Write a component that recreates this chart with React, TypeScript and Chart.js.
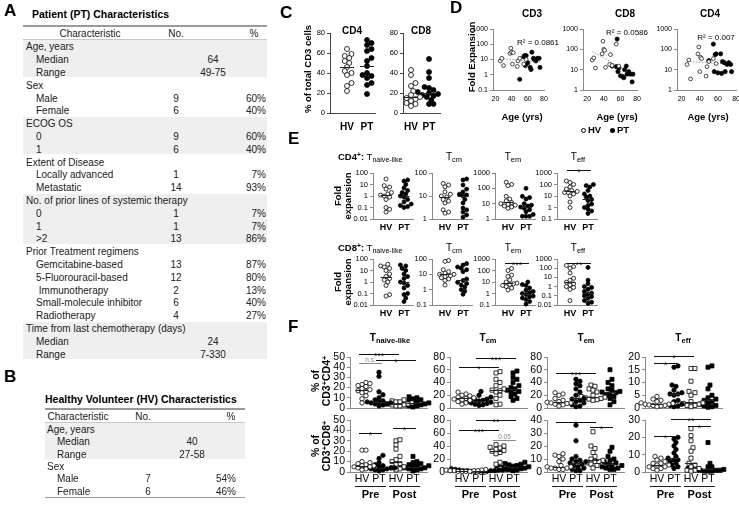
import React, { useEffect, useRef } from "react";
import { Chart, registerables } from "chart.js";
Chart.register(...registerables);

const FONT = "'Liberation Sans', Arial, Helvetica, sans-serif";

// ---------------- DATA ----------------
type Row = [string, string, string, string]; // label, No., %, centred value
const PT_GROUPS: { title: string; rows: Row[] }[] = [
  { title: "Age, years", rows: [["Median", "", "", "64"], ["Range", "", "", "49-75"]] },
  { title: "Sex", rows: [["Male", "9", "60%", ""], ["Female", "6", "40%", ""]] },
  { title: "ECOG OS", rows: [["0", "9", "60%", ""], ["1", "6", "40%", ""]] },
  { title: "Extent of Disease", rows: [["Locally advanced", "1", "7%", ""], ["Metastatic", "14", "93%", ""]] },
  { title: "No. of prior lines of systemic therapy", rows: [["0", "1", "7%", ""], ["1", "1", "7%", ""], [">2", "13", "86%", ""]] },
  {
    title: "Prior Treatment regimens",
    rows: [
      ["Gemcitabine-based", "13", "87%", ""],
      ["5-Fluorouracil-based", "12", "80%", ""],
      ["\u00a0Immunotherapy", "2", "13%", ""],
      ["Small-molecule inhibitor", "6", "40%", ""],
      ["Radiotherapy", "4", "27%", ""],
    ],
  },
  { title: "Time from last chemotherapy (days)", rows: [["Median", "", "", "24"], ["Range", "", "", "7-330"]] },
];
const HV_GROUPS: { title: string; rows: Row[] }[] = [
  { title: "Age, years", rows: [["Median", "", "", "40"], ["Range", "", "", "27-58"]] },
  { title: "Sex", rows: [["Male", "7", "54%", ""], ["Female", "6", "46%", ""]] },
];

// Panel C (% of total CD3 cells)
const C_GROUPS = ["HV", "PT"];
const C_TICKS = [0, 20, 40, 60, 80];
const C_CD4_HV = [64, 59, 57, 55, 52, 50, 46, 42, 40, 38, 30, 27, 22];
const C_CD4_PT = [73, 70, 68, 64, 62, 55, 52, 47, 40, 38, 37, 35, 30, 28, 19];
const C_CD8_HV = [43, 38, 30, 27, 22, 18, 16, 15, 14, 12, 10, 9, 7];
const C_CD8_PT = [54, 41, 35, 26, 25, 23, 21, 20, 19, 18, 17, 16, 13, 9, 9];

// Panel D (fold expansion vs age)
const D_AGE_TICKS = [20, 40, 60, 80];
const D_AGE_HV = [26, 28, 30, 38, 39, 40, 41, 42, 47, 48, 50, 55, 58];
const D_AGE_PT = [50, 55, 56, 57, 58, 60, 63, 64, 65, 67, 68, 70, 72, 74, 75];
const D_CD3_HV = [8, 12, 4, 25, 55, 30, 5, 28, 3.5, 8, 12, 5, 10];
const D_CD3_PT = [0.5, 15, 18, 4, 18, 6, 3, 2.2, 30, 12, 10, 8, 12, 12, 3];
const D_CD8_HV = [30, 38, 12, 60, 250, 100, 90, 13, 18, 55, 16, 180, 15];
const D_CD8_PT = [15, 14, 320, 8, 12, 5, 4.5, 4, 10, 15, 6, 8, 6, 2.5, 6];
const D_CD4_HV = [18, 30, 3.5, 60, 130, 8, 40, 35, 4.8, 14, 25, 35, 20];
const D_CD4_PT = [28, 180, 8, 55, 60, 7, 60, 6.5, 25, 22, 8, 18, 22, 18, 8];
const D_TICKS_CD3 = [0.1, 1, 10, 100, 1000];
const D_TICKS_CD8 = [1, 10, 100, 1000];
const D_TICKS_CD4 = [1, 10, 100, 1000];
const D_R2 = ["R\u00b2 = 0.0861", "R\u00b2 = 0.0586", "R\u00b2 = 0.007"];

// Panel E (fold expansion, [HV, PT])
const E_CD4_NAIVE = [[30, 8, 6, 4, 2, 1.5, 1.2, 1, 0.8, 0.5, 0.1, 0.07, 0.04], [25, 20, 10, 5, 3, 2, 1.5, 1, 0.8, 0.5, 0.3, 0.2, 0.15, 0.12, 0.1]];
const E_CD4_CM = [[35, 30, 25, 15, 12, 10, 9, 7, 6, 5, 2.5, 2, 1.8], [55, 50, 30, 20, 15, 12, 11, 10, 7, 5, 3, 2.5, 2, 1.5, 1.2]];
const E_CD4_EM = [[250, 180, 150, 30, 20, 15, 12, 10, 9, 8, 7, 6, 5], [100, 30, 25, 20, 10, 8, 7, 6, 5, 4, 3, 2, 1.5, 1.5, 1.5]];
const E_CD4_EFF = [[200, 150, 100, 60, 40, 30, 25, 20, 20, 15, 10, 3, 1], [100, 80, 60, 30, 15, 10, 8, 5, 4, 2, 1.5, 1, 0.7, 0.5, 0.3]];
const E_CD8_NAIVE = [[35, 25, 20, 15, 10, 5, 3, 2, 1.5, 1, 0.5, 0.08, 0.06], [30, 25, 15, 10, 5, 3, 2, 1, 0.8, 0.5, 0.3, 0.1, 0.08, 0.04, 0.02]];
const E_CD8_CM = [[80, 70, 20, 15, 12, 10, 10, 8, 7, 6, 5, 4, 2], [50, 40, 30, 25, 20, 15, 5, 4, 3, 2.5, 2, 1.5, 1, 0.8, 0.5]];
const E_CD8_EM = [[150, 100, 40, 30, 15, 10, 8, 7, 6, 5, 4, 3, 2], [10, 6, 5, 3, 2, 1.5, 1.2, 1, 0.8, 0.6, 0.5, 0.4, 0.3, 0.2, 0.12]];
const E_CD8_EFF = [[200, 150, 100, 30, 8, 5, 3, 2, 1.5, 1, 0.8, 0.5, 0.03], [120, 5, 2, 1, 0.8, 0.5, 0.3, 0.2, 0.15, 0.1, 0.08, 0.05, 0.03, 0.02, 0.015]];
const E_CD4_TICKS = [[0.01, 0.1, 1, 10, 100], [1, 10, 100], [1, 10, 100, 1000], [0.1, 1, 10, 100, 1000]];
const E_CD8_TICKS = [[0.01, 0.1, 1, 10, 100], [0.1, 1, 10, 100], [0.1, 1, 10, 100, 1000], [0.01, 0.1, 1, 10, 100, 1000]];
type Sig = [number, number, number, string, boolean?]; // group a, group b, y value, label, grey
const E_CD4_SIGS: Sig[][] = [[], [], [], [[0, 1, 1800, "*"]]];
const E_CD8_SIGS: Sig[][] = [[], [], [[0, 1, 450, "***"]], [[0, 1, 370, "**"]]];
const E_SUBSETS = ["naive-like", "cm", "em", "eff"];

// Panel F (% of parent, [HV pre, PT pre, HV post, PT post])
const F_GROUPS = ["HV", "PT", "HV", "PT"];
const F_CD4_NAIVE = [
  [25, 24, 23, 22, 21, 19, 18, 17, 16, 15, 12, 9, 5],
  [35, 31, 16, 13, 10, 8, 7, 6, 6, 5, 5, 4, 4, 3, 2],
  [8, 7, 6, 6, 5, 5, 4, 4, 4, 3, 3, 2, 2],
  [11, 10, 9, 8, 7, 6, 5, 5, 4, 4, 3, 3, 2, 2, 1],
];
const F_CD4_CM = [
  [25, 22, 20, 19, 17, 16, 15, 14, 13, 12, 10, 8, 6],
  [26, 20, 17, 15, 14, 13, 12, 11, 10, 9, 8, 7, 6, 5, 4],
  [57, 55, 45, 40, 35, 30, 28, 27, 25, 20, 15, 6, 5],
  [58, 55, 48, 45, 40, 35, 32, 30, 28, 26, 25, 22, 18, 15, 12],
];
const F_CD4_EM = [
  [24, 22, 20, 15, 12, 10, 9, 8, 8, 7, 6, 5, 3],
  [45, 42, 38, 35, 30, 25, 20, 15, 14, 12, 10, 8, 5, 3, 2],
  [36, 34, 30, 28, 25, 20, 18, 17, 16, 15, 14, 13, 12],
  [60, 45, 40, 35, 30, 28, 26, 25, 24, 22, 20, 18, 15, 10, 5],
];
const F_CD4_EFF = [
  [4.5, 3.5, 3, 2.5, 2, 1.8, 1.5, 1.5, 1.2, 1, 1, 0.8, 0.5],
  [16.5, 16, 9, 8.5, 7, 6, 5.5, 5.5, 5, 3, 2.5, 1.5, 1, 0.8, 0.5],
  [15.5, 15.5, 10.5, 6.5, 6, 5, 2.5, 2, 1.8, 1.5, 1, 1, 0.5],
  [16.5, 16, 9, 7.5, 5, 4, 3.5, 3, 2.5, 2, 1.5, 1, 0.8, 0.5, 0.3],
];
const F_CD8_NAIVE = [
  [21, 21, 10, 9, 8, 7, 6, 6, 5, 5, 4, 3, 2],
  [16, 13, 9, 7, 6, 5, 5, 4, 4, 4, 3, 3, 2, 2, 1],
  [30, 31, 26, 22, 15, 12, 10, 8, 7, 5, 4, 3, 2],
  [15, 10, 9, 8, 7, 6, 6, 5, 5, 4, 4, 3, 3, 2, 1],
];
const F_CD8_CM = [
  [6, 4, 3, 3, 3, 2, 2, 2, 2, 1, 1, 1, 1],
  [5, 4, 4, 3, 3, 3, 2, 2, 2, 2, 1, 1, 1, 1, 1],
  [42, 40, 38, 37, 35, 33, 32, 30, 28, 15, 12, 5, 3],
  [15, 13, 12, 11, 10, 9, 8, 8, 7, 6, 5, 5, 4, 3, 2],
];
const F_CD8_EM = [
  [14, 13, 12, 10, 8, 5, 4, 4, 3, 3, 3, 2, 2],
  [36, 24, 12, 10, 9, 8, 8, 7, 6, 5, 4, 3, 2, 1, 1],
  [31, 20, 18, 15, 12, 10, 9, 8, 8, 7, 6, 5, 3],
  [19, 16, 12, 10, 9, 8, 7, 6, 5, 5, 4, 3, 3, 2, 2],
];
const F_CD8_EFF = [
  [9, 8, 7, 6, 5, 5, 4, 4, 3, 3, 2, 2, 1],
  [20, 19, 17, 15, 13, 11, 9, 8, 7, 7, 6, 5, 4, 3, 2],
  [25, 21, 18, 14, 12, 8, 5, 4, 3, 2, 1, 1, 0.5],
  [17, 5, 3, 3, 2, 2, 2, 1.5, 1.5, 1, 1, 1, 0.5, 0.5, 0.5],
];
const F_CD4_TICKS = [[0, 10, 20, 30, 40, 50], [0, 20, 40, 60, 80], [0, 20, 40, 60, 80], [0, 5, 10, 15, 20]];
const F_CD8_TICKS = [[0, 10, 20, 30, 40, 50], [0, 20, 40, 60, 80], [0, 10, 20, 30, 40], [0, 10, 20, 30]];
const F_CD4_SIGS: Sig[][] = [
  [[0, 2, 53, "***"], [0, 1, 44, "n.s.", true], [1, 3, 47, "*"]],
  [[0, 2, 64, "*"], [1, 3, 78, "***"]],
  [[0, 2, 55, "***"]],
  [[0, 2, 20.4, "*"], [0, 1, 17.6, "*"]],
];
const F_CD8_SIGS: Sig[][] = [
  [[0, 1, 37.5, "*"], [2, 3, 42, "*"]],
  [[0, 2, 65, "***"], [1, 3, 80, "**"], [2, 3, 49, "0.05", true]],
  [[0, 2, 38.5, "*"], [2, 3, 34.6, "*"]],
  [[0, 1, 21, "*"], [1, 3, 30.5, "**"], [2, 3, 26.5, "*"]],
];
const F_PHASES = ["Pre", "Post"];

// ---------------- LAYOUT CONSTANTS ----------------
const F_POS = [1, 2, 3, 4];
const F_STEP = 17;
const F_AX = [350, 450, 547, 645];
const E_AX = [373, 432, 495, 557];

// ---------------- HELPERS ----------------
function median(v: number[]) {
  const s = [...v].sort((a, b) => a - b);
  const n = s.length;
  return n % 2 ? s[(n - 1) / 2] : (s[n / 2 - 1] + s[n / 2]) / 2;
}

function swarm(values: number[], log: boolean, pxPerY: number, r: number): number[] {
  const ys = values.map((v) => (log ? Math.log10(v) : v) * pxPerY);
  const order = ys.map((_, i) => i).sort((a, b) => ys[a] - ys[b]);
  const placed: { x: number; y: number }[] = [];
  const out = new Array(values.length).fill(0);
  const d2 = (2 * r) * (2 * r) * 0.8;
  for (const i of order) {
    const y = ys[i];
    let best = 0;
    for (let k = 0; k < 30; k++) {
      const cand = k === 0 ? 0 : (k % 2 ? 1 : -1) * Math.ceil(k / 2) * r * 0.9;
      if (placed.every((p) => (p.x - cand) ** 2 + (p.y - y) ** 2 >= d2)) {
        best = cand;
        break;
      }
    }
    placed.push({ x: best, y });
    out[i] = best;
  }
  return out;
}

interface Grp { values: number[]; pos: number; shape: "circle" | "rect"; filled: boolean }
interface Spec {
  left: number; right: number; top: number; bottom: number;
  xMin: number; xMax: number; xTicks: number[]; xLabels?: string[]; showX: boolean;
  xFontSize: number; xBold: boolean; xPad: number;
  yLog: boolean; yMin: number; yMax: number; yTicks: number[]; yFontSize: number;
  groups?: Grp[];
  scatter?: { x: number[]; y: number[]; filled: boolean }[];
  trend?: boolean;
  sigs?: Sig[];
  radius: number; medHalf: number; axisColor: string;
}

const YW = 30, PTOP = 16, PR = 8;

function buildConfig(s: Spec, XH: number): any {
  const plotH = s.bottom - s.top;
  const plotW = s.right - s.left;
  const tf = (v: number) => (s.yLog ? Math.log10(v) : v);
  const pxPerY = plotH / (tf(s.yMax) - tf(s.yMin));
  const pxPerX = plotW / (s.xMax - s.xMin);
  const datasets: any[] = [];
  const medians: { x: number; y: number }[] = [];
  (s.groups || []).forEach((g) => {
    const offs = swarm(g.values, s.yLog, pxPerY, s.radius);
    datasets.push({
      data: g.values.map((v, i) => ({ x: g.pos + offs[i] / pxPerX, y: v })),
      pointStyle: g.shape === "rect" ? "rect" : "circle",
      pointRadius: g.shape === "rect" ? s.radius * 1.3 : s.radius,
      pointBackgroundColor: g.filled ? "#000" : "#fff",
      pointBorderColor: "#000",
      pointBorderWidth: 0.8,
      clip: false,
    });
    medians.push({ x: g.pos, y: median(g.values) });
  });
  (s.scatter || []).forEach((g) => {
    datasets.push({
      data: g.x.map((x, i) => ({ x, y: g.y[i] })),
      pointStyle: "circle",
      pointRadius: g.filled ? 2.1 : 1.9,
      pointBackgroundColor: g.filled ? "#000" : "#fff",
      pointBorderColor: "#000",
      pointBorderWidth: 0.7,
      clip: false,
    });
  });
  if (s.trend && s.scatter) {
    const xs: number[] = [], ys: number[] = [];
    s.scatter.forEach((g) => g.x.forEach((x, i) => { xs.push(x); ys.push(Math.log(g.y[i])); }));
    const n = xs.length;
    const mx = xs.reduce((a, b) => a + b, 0) / n;
    const my = ys.reduce((a, b) => a + b, 0) / n;
    let sxy = 0, sxx = 0;
    xs.forEach((x, i) => { sxy += (x - mx) * (ys[i] - my); sxx += (x - mx) * (x - mx); });
    const b = sxy / sxx, a = my - b * mx;
    const x0 = Math.min(...xs), x1 = Math.max(...xs);
    datasets.push({
      data: [{ x: x0, y: Math.exp(a + b * x0) }, { x: x1, y: Math.exp(a + b * x1) }],
      showLine: true,
      pointRadius: 0,
      borderColor: "#9a9a9a",
      borderWidth: 1,
      borderDash: [1.5, 1.5],
      clip: false,
    });
  }
  const overlay = {
    id: "overlay",
    afterDatasetsDraw(chart: any) {
      const ctx = chart.ctx, xsc = chart.scales.x, ysc = chart.scales.y;
      ctx.save();
      ctx.strokeStyle = "#222";
      ctx.lineWidth = 1;
      medians.forEach((m) => {
        const px = xsc.getPixelForValue(m.x);
        const py = Math.round(ysc.getPixelForValue(m.y)) + 0.5;
        ctx.beginPath();
        ctx.moveTo(px - s.medHalf, py);
        ctx.lineTo(px + s.medHalf, py);
        ctx.stroke();
      });
      (s.sigs || []).forEach(([ga, gb, y, label, grey]) => {
        const g = s.groups || [];
        const xa = xsc.getPixelForValue(g[ga].pos) - 3;
        const xb = xsc.getPixelForValue(g[gb].pos) + 3;
        const py = Math.round(ysc.getPixelForValue(y)) + 0.5;
        const col = grey ? "#888" : "#111";
        ctx.strokeStyle = col;
        ctx.fillStyle = col;
        ctx.beginPath();
        ctx.moveTo(xa, py);
        ctx.lineTo(xb, py);
        ctx.stroke();
        ctx.textAlign = "center";
        if (label.startsWith("*")) {
          ctx.font = `9px ${FONT}`;
          ctx.textBaseline = "alphabetic";
          ctx.fillText(label, (xa + xb) / 2, py + 4);
        } else {
          ctx.font = `6.5px ${FONT}`;
          ctx.textBaseline = "bottom";
          ctx.fillText(label, (xa + xb) / 2, py - 0.5);
        }
      });
      ctx.restore();
    },
  };
  return {
    type: "scatter",
    data: { datasets },
    plugins: [overlay],
    options: {
      animation: false,
      responsive: false,
      maintainAspectRatio: false,
      events: [],
      layout: { autoPadding: false, padding: { left: 0, top: PTOP, right: PR, bottom: 0 } },
      plugins: { legend: { display: false }, tooltip: { enabled: false }, title: { display: false } },
      scales: {
        x: {
          type: "linear",
          min: s.xMin,
          max: s.xMax,
          afterBuildTicks: (sc: any) => { sc.ticks = s.xTicks.map((v) => ({ value: v })); },
          afterFit: (sc: any) => { sc.height = XH; },
          ticks: {
            display: s.showX,
            autoSkip: false,
            maxRotation: 0,
            padding: s.xPad,
            color: "#000",
            font: { family: FONT, size: s.xFontSize, weight: s.xBold ? "bold" : "normal" },
            callback: (v: any, i: number) => (s.xLabels ? s.xLabels[i] : String(v)),
          },
          grid: { display: false, drawTicks: false, tickLength: 0 },
          border: { display: true, color: s.axisColor, width: 1 },
        },
        y: {
          type: s.yLog ? "logarithmic" : "linear",
          min: s.yMin,
          max: s.yMax,
          afterBuildTicks: (sc: any) => { sc.ticks = s.yTicks.map((v) => ({ value: v })); },
          afterFit: (sc: any) => { sc.width = YW; },
          ticks: {
            autoSkip: false,
            padding: 2,
            color: "#000",
            font: { family: FONT, size: s.yFontSize },
            callback: (v: any) => String(v),
          },
          grid: { display: true, drawOnChartArea: false, drawTicks: true, tickLength: 3, color: s.axisColor },
          border: { display: true, color: s.axisColor, width: 1 },
        },
      },
    },
  };
}

function Plot({ s }: { s: Spec }) {
  const ref = useRef<HTMLCanvasElement>(null);
  const XH = s.showX ? 18 : 10;
  const W = s.right - s.left + YW + PR;
  const H = s.bottom - s.top + PTOP + XH;
  useEffect(() => {
    const chart = new Chart(ref.current as HTMLCanvasElement, buildConfig(s, XH));
    return () => chart.destroy();
  }, []);
  return (
    <canvas
      ref={ref}
      width={W}
      height={H}
      style={{ position: "absolute", left: s.left - YW, top: s.top - PTOP, width: W, height: H }}
    />
  );
}

// text helpers
function Tx(p: { x: number; y: number; size?: number; bold?: boolean; align?: "left" | "center" | "right"; color?: string; children: any }) {
  const tr = p.align === "center" ? "translate(-50%,-50%)" : p.align === "right" ? "translate(-100%,-50%)" : "translateY(-50%)";
  return (
    <div style={{ position: "absolute", left: p.x, top: p.y, fontSize: p.size || 10, fontWeight: p.bold ? "bold" : "normal", color: p.color || "#000", whiteSpace: "nowrap", lineHeight: 1.1, transform: tr }}>
      {p.children}
    </div>
  );
}
function VTx(p: { x: number; y: number; size?: number; bold?: boolean; children: any }) {
  return (
    <div style={{ position: "absolute", left: p.x, top: p.y, fontSize: p.size || 10, fontWeight: p.bold ? "bold" : "normal", whiteSpace: "nowrap", lineHeight: 1.05, textAlign: "center", transform: "translate(-50%,-50%) rotate(-90deg)" }}>
      {p.children}
    </div>
  );
}
const Sub = ({ t }: { t: string }) => <span style={{ fontSize: "0.75em", position: "relative", top: "0.3em" }}>{t}</span>;
const Sup = ({ t }: { t: string }) => <span style={{ fontSize: "0.7em", position: "relative", top: "-0.45em" }}>{t}</span>;

function Table(p: {
  left: number; width: number; top: number; headH: number; rowH: number; groups: { title: string; rows: Row[] }[];
  groupX: number; itemX: number; noX: number; pctR: number; midX: number; hChar: number; hNo: number; hPct: number; bottomLine: boolean;
}) {
  const els: any[] = [];
  const fs = 10;
  els.push(<div key="tl" style={{ position: "absolute", left: p.left, top: p.top, width: p.width, height: 2, background: "#9a9a9a" }} />);
  const hy = p.top + p.headH / 2 + 1;
  els.push(<Tx key="h1" x={p.hChar} y={hy} size={fs} align="center" color="#222">Characteristic</Tx>);
  els.push(<Tx key="h2" x={p.hNo} y={hy} size={fs} align="center" color="#222">No.</Tx>);
  els.push(<Tx key="h3" x={p.hPct} y={hy} size={fs} align="center" color="#222">%</Tx>);
  els.push(<div key="hl" style={{ position: "absolute", left: p.left, top: p.top + p.headH, width: p.width, height: 1, background: "#c8c8c8" }} />);
  let y = p.top + p.headH + 1;
  p.groups.forEach((g, gi) => {
    const n = g.rows.length + 1;
    if (gi % 2 === 0) {
      els.push(<div key={"bg" + gi} style={{ position: "absolute", left: p.left, top: y, width: p.width, height: n * p.rowH - 1, background: "#efefef" }} />);
    }
    els.push(<Tx key={"g" + gi} x={p.groupX} y={y + p.rowH / 2} size={fs} color="#222">{g.title}</Tx>);
    g.rows.forEach((r, ri) => {
      const cy = y + (ri + 1) * p.rowH + p.rowH / 2;
      els.push(<Tx key={`r${gi}_${ri}a`} x={p.itemX} y={cy} size={fs} color="#222">{r[0]}</Tx>);
      if (r[1]) els.push(<Tx key={`r${gi}_${ri}b`} x={p.noX} y={cy} size={fs} align="center" color="#222">{r[1]}</Tx>);
      if (r[2]) els.push(<Tx key={`r${gi}_${ri}c`} x={p.pctR} y={cy} size={fs} align="right" color="#222">{r[2]}</Tx>);
      if (r[3]) els.push(<Tx key={`r${gi}_${ri}d`} x={p.midX} y={cy} size={fs} align="center" color="#222">{r[3]}</Tx>);
    });
    y += n * p.rowH;
  });
  if (p.bottomLine) els.push(<div key="bl" style={{ position: "absolute", left: p.left, top: y, width: p.width, height: 1.5, background: "#9a9a9a" }} />);
  return <>{els}</>;
}

// ---------------- SPECS ----------------
const catGroups = (arrs: number[][], pos: number[], shapes: ("circle" | "rect")[], filled: boolean[]): Grp[] =>
  arrs.map((values, i) => ({ values, pos: pos[i], shape: shapes[i], filled: filled[i] }));

const cSpec = (left: number, right: number, xMin: number, xMax: number, hv: number[], pt: number[]): Spec => ({
  left, right, top: 33, bottom: 113, xMin, xMax, xTicks: [1, 2], xLabels: C_GROUPS, showX: true, xFontSize: 10, xBold: true, xPad: 8,
  yLog: false, yMin: 0, yMax: 80, yTicks: C_TICKS, yFontSize: 7.5,
  groups: catGroups([hv, pt], [1, 2], ["circle", "circle"], [false, true]), radius: 2.5, medHalf: 7, axisColor: "#444",
});

const dSpec = (left: number, right: number, xMin: number, xMax: number, ticks: number[], hv: number[], pt: number[]): Spec => ({
  left, right, top: 29, bottom: 90, xMin, xMax, xTicks: D_AGE_TICKS, showX: true, xFontSize: 7, xBold: false, xPad: 5,
  yLog: true, yMin: ticks[0], yMax: ticks[ticks.length - 1], yTicks: ticks, yFontSize: 7,
  scatter: [{ x: D_AGE_HV, y: hv, filled: false }, { x: D_AGE_PT, y: pt, filled: true }], trend: true,
  radius: 2, medHalf: 0, axisColor: "#8a8a8a",
});

const eSpec = (i: number, top: number, bottom: number, data: number[][], ticks: number[], sigs: Sig[]): Spec => ({
  left: E_AX[i], right: E_AX[i] + 40, top, bottom, xMin: 1 - 13 / 18, xMax: 1 - 13 / 18 + 40 / 18, xTicks: [1, 2], xLabels: C_GROUPS,
  showX: true, xFontSize: 9, xBold: true, xPad: 3,
  yLog: true, yMin: ticks[0], yMax: ticks[ticks.length - 1], yTicks: ticks, yFontSize: 7.5,
  groups: catGroups(data, [1, 2], ["circle", "circle"], [false, true]), sigs, radius: 2, medHalf: 5.5, axisColor: "#8a8a8a",
});

const F_XMIN = 1 - 12 / F_STEP;
const fSpec = (i: number, top: number, bottom: number, data: number[][], ticks: number[], sigs: Sig[], showX: boolean): Spec => ({
  left: F_AX[i], right: F_AX[i] + 77, top, bottom, xMin: F_XMIN, xMax: F_XMIN + 77 / F_STEP, xTicks: F_POS, xLabels: F_GROUPS,
  showX, xFontSize: 10.5, xBold: false, xPad: 1,
  yLog: false, yMin: ticks[0], yMax: ticks[ticks.length - 1], yTicks: ticks, yFontSize: 10.5,
  groups: catGroups(data, F_POS, ["circle", "circle", "rect", "rect"], [false, true, false, true]), sigs, radius: 2.2, medHalf: 6, axisColor: "#8a8a8a",
});

const E_CD4 = [E_CD4_NAIVE, E_CD4_CM, E_CD4_EM, E_CD4_EFF];
const E_CD8 = [E_CD8_NAIVE, E_CD8_CM, E_CD8_EM, E_CD8_EFF];
const F_CD4 = [F_CD4_NAIVE, F_CD4_CM, F_CD4_EM, F_CD4_EFF];
const F_CD8 = [F_CD8_NAIVE, F_CD8_CM, F_CD8_EM, F_CD8_EFF];

const SPECS: Spec[] = [
  cSpec(330, 375, 0.15, 2.4, C_CD4_HV, C_CD4_PT),
  cSpec(403, 440, 1 - 8 / 18, 1 - 8 / 18 + 37 / 18, C_CD8_HV, C_CD8_PT),
  dSpec(493, 545, 17, 81, D_TICKS_CD3, D_CD3_HV, D_CD3_PT),
  dSpec(583, 638, 15, 80, D_TICKS_CD8, D_CD8_HV, D_CD8_PT),
  dSpec(677, 737, 15, 80, D_TICKS_CD4, D_CD4_HV, D_CD4_PT),
  ...E_CD4.map((d, i) => eSpec(i, 173, 219, d, E_CD4_TICKS[i], E_CD4_SIGS[i])),
  ...E_CD8.map((d, i) => eSpec(i, 259, 305, d, E_CD8_TICKS[i], E_CD8_SIGS[i])),
  ...F_CD4.map((d, i) => fSpec(i, 357, 408, d, F_CD4_TICKS[i], F_CD4_SIGS[i], false)),
  ...F_CD8.map((d, i) => fSpec(i, 420, 472, d, F_CD8_TICKS[i], F_CD8_SIGS[i], true)),
];

export default function App() {
  const eTitleX = [0, 454, 513, 578];
  const fTitleX = [390, 488, 586, 683];
  const letter = (t: string, x: number, y: number) => <Tx x={x} y={y} size={17} bold>{t}</Tx>;
  return (
    <div style={{ position: "absolute", left: 0, top: 0, width: 739, height: 505, background: "#fff", overflow: "hidden", fontFamily: FONT, color: "#000", filter: "grayscale(1)" }}>
      {SPECS.map((s, i) => <Plot key={i} s={s} />)}

      {/* Panel A */}
      {letter("A", 4, 11)}
      <Tx x={32} y={15} size={10.5} bold>Patient (PT) Characteristics</Tx>
      <Table left={23} width={244} top={25} headH={14} rowH={12.8} groups={PT_GROUPS} groupX={26} itemX={36} noX={176} pctR={266} midX={213} hChar={90} hNo={176} hPct={254} bottomLine={false} />
      {/* Panel B */}
      {letter("B", 4, 377)}
      <Tx x={45} y={400} size={10.5} bold>Healthy Volunteer (HV) Characteristics</Tx>
      <Table left={45} width={200} top={408} headH={14} rowH={12.3} groups={HV_GROUPS} groupX={47} itemX={57} noX={148} pctR={236} midX={192} hChar={78} hNo={143} hPct={231} bottomLine />

      {/* Panel C */}
      {letter("C", 280, 13)}
      <Tx x={352} y={30} size={10} bold align="center">CD4</Tx>
      <Tx x={421} y={30} size={10} bold align="center">CD8</Tx>
      <VTx x={308} y={69} size={9.5} bold>% of total CD3 cells</VTx>

      {/* Panel D */}
      {letter("D", 450, 8)}
      <Tx x={532} y={13} size={10} bold align="center">CD3</Tx>
      <Tx x={625} y={13} size={10} bold align="center">CD8</Tx>
      <Tx x={710} y={13} size={10} bold align="center">CD4</Tx>
      <VTx x={472} y={57} size={9.5} bold>Fold Expansion</VTx>
      <Tx x={538} y={43} size={8} align="center">{D_R2[0]}</Tx>
      <Tx x={627} y={33} size={8} align="center">{D_R2[1]}</Tx>
      <Tx x={716} y={38} size={8} align="center">{D_R2[2]}</Tx>
      <Tx x={522} y={117} size={9.5} bold align="center">Age (yrs)</Tx>
      <Tx x={617} y={117} size={9.5} bold align="center">Age (yrs)</Tx>
      <Tx x={708} y={117} size={9.5} bold align="center">Age (yrs)</Tx>
      <div style={{ position: "absolute", left: 581, top: 128, width: 3, height: 3, borderRadius: 3, border: "0.8px solid #000" }} />
      <Tx x={588} y={130} size={9.5} bold>HV</Tx>
      <div style={{ position: "absolute", left: 610, top: 128, width: 4.5, height: 4.5, borderRadius: 3, background: "#000" }} />
      <Tx x={617} y={130} size={9.5} bold>PT</Tx>

      {/* Panel E */}
      {letter("E", 288, 139)}
      {[0, 1].map((r) => {
        const cy = r === 0 ? 157 : 248;
        return (
          <React.Fragment key={"er" + r}>
            <Tx x={338} y={cy} size={9.5}>
              <b>CD{r === 0 ? "4" : "8"}<Sup t="+" />:</b> T<Sub t={E_SUBSETS[0]} />
            </Tx>
            {[1, 2, 3].map((k) => (
              <Tx key={k} x={eTitleX[k]} y={cy} size={10} align="center">
                T<Sub t={E_SUBSETS[k]} />
              </Tx>
            ))}
            <VTx x={343} y={r === 0 ? 196 : 282} size={9.5} bold>Fold<br />expansion</VTx>
          </React.Fragment>
        );
      })}

      {/* Panel F */}
      {letter("F", 288, 327)}
      {[0, 1, 2, 3].map((k) => (
        <Tx key={"ft" + k} x={fTitleX[k]} y={338} size={10} bold align="center">
          T<Sub t={E_SUBSETS[k]} />
        </Tx>
      ))}
      <VTx x={321} y={381} size={10.5} bold>% of<br />CD3<Sup t="+" />CD4<Sup t="+" /></VTx>
      <VTx x={321} y={446} size={10.5} bold>% of<br />CD3<Sup t="+" />CD8<Sup t="+" /></VTx>
      {F_AX.map((ax, i) => {
        const px = (p: number) => ax + (p - F_XMIN) * F_STEP;
        return (
          <React.Fragment key={"fp" + i}>
            {[0, 1].map((ph) => {
              const a = px(F_POS[ph * 2]) - 7, b = px(F_POS[ph * 2 + 1]) + 7;
              return (
                <React.Fragment key={ph}>
                  <div style={{ position: "absolute", left: a, top: 486, width: b - a, height: 1, background: "#222" }} />
                  <Tx x={(a + b) / 2} y={494} size={11} bold align="center">{F_PHASES[ph]}</Tx>
                </React.Fragment>
              );
            })}
          </React.Fragment>
        );
      })}
    </div>
  );
}
